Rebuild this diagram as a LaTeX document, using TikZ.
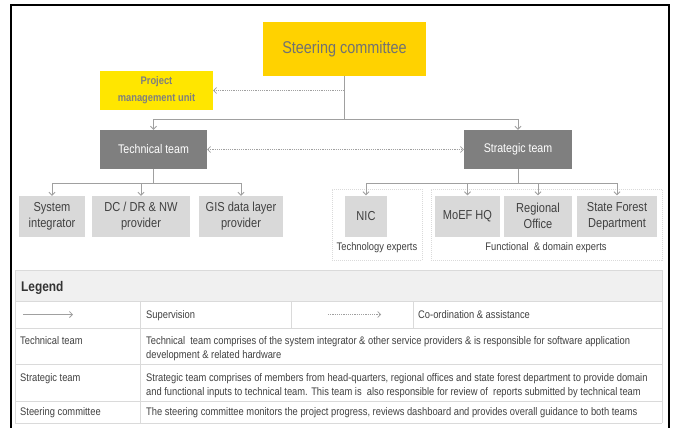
\documentclass[tikz,border=0pt]{standalone}
\usepackage{fontspec}
\setmainfont{Liberation Sans}[FakeStretch=0.85]
\usetikzlibrary{arrows.meta}
\definecolor{steer}{HTML}{FFD200}
\definecolor{pmuc}{HTML}{FFE600}
\definecolor{teamc}{HTML}{7F7F7F}
\definecolor{subc}{HTML}{D9D9D9}
\definecolor{txt}{HTML}{404040}
\definecolor{linec}{HTML}{A0A0A0}
\definecolor{grid}{HTML}{DADADA}
\definecolor{headc}{HTML}{F0F0F0}
\tikzset{
  box/.style={rectangle, inner sep=1pt, align=center, text=txt},
  steerbox/.style={box, fill=steer, font=\fontsize{17}{19}\selectfont, text=teamc!90!black},
  pmubox/.style={box, fill=pmuc, font=\bfseries\fontsize{11}{17}\selectfont, text=teamc},
  teambox/.style={box, fill=teamc, text=white, font=\fontsize{12.5}{15}\selectfont},
  subbox/.style={box, fill=subc, font=\fontsize{13}{16}\selectfont},
  grp/.style={draw=grid, dash pattern=on 1pt off 1pt, line width=0.6pt},
  grplabel/.style={font=\fontsize{11}{13}\selectfont, text=txt},
  conn/.style={draw=linec, line width=0.8pt},
  arr/.style={conn, -{Straight Barb[length=3pt,width=6pt]}},
  dotarr/.style={draw=linec, line width=0.7pt, dash pattern=on 1.2pt off 1pt, -{Straight Barb[length=3pt,width=6pt]}},
  dotarr2/.style={draw=linec, line width=0.7pt, dash pattern=on 1.2pt off 1pt, {Straight Barb[length=3pt,width=6pt]}-{Straight Barb[length=3pt,width=6pt]}},
  cell/.style={anchor=base west, inner sep=0pt, align=left, text=txt, font=\fontsize{11}{14}\selectfont},
  gridline/.style={draw=grid, line width=1pt}
}
\begin{document}
\begin{tikzpicture}[x=1pt,y=-1pt]
\useasboundingbox (0,0) rectangle (675,428);
\fill[white] (0,0) rectangle (675,428);
\draw[black, line width=1.8pt] (11,5) rectangle (669,440);

% top nodes
\node[steerbox, minimum width=163pt, minimum height=54pt] (steer) at (344.5,49) {Steering committee};
\node[pmubox, minimum width=113pt, minimum height=39pt] (pmu) at (156.5,90.5) {Project\\management unit};
\node[teambox, minimum width=107pt, minimum height=39pt] (tech) at (153.5,149.5) {Technical team};
\node[teambox, minimum width=108pt, minimum height=39pt] (strat) at (518,149.5) {Strategic team};

% groups
\node[grp, minimum width=90pt, minimum height=71pt] (g1) at (377,224.5) {};
\node[grp, minimum width=231pt, minimum height=71pt] (g2) at (546.5,224.5) {};
\node[grplabel] (g1l) at (377,248) {Technology experts};
\node[grplabel] (g2l) at (546,248) {Functional \ \& domain experts};

% sub boxes
\node[subbox, minimum width=66pt, minimum height=41pt] (si) at (52,216.5) {System\\integrator};
\node[subbox, minimum width=98pt, minimum height=41pt] (dc) at (141,216.5) {DC / DR \& NW\\provider};
\node[subbox, minimum width=84pt, minimum height=41pt] (gis) at (241,216.5) {GIS data layer\\provider};
\node[subbox, minimum width=42pt, minimum height=41pt] (nic) at (366,216) {NIC};
\node[subbox, minimum width=65pt, minimum height=41pt] (moef) at (467.5,216) {MoEF HQ};
\node[subbox, minimum width=68pt, minimum height=41pt] (reg) at (538,216) {Regional\\Office};
\node[subbox, minimum width=80pt, minimum height=41pt] (sfd) at (617,216) {State Forest\\Department};

% connectors
\coordinate (sj) at (344.5,119);
\coordinate (pj) at (344.5,90.5);
\draw[conn] (steer.south) -- (sj);
\draw[arr] (sj) -| (tech.north);
\draw[arr] (sj) -| (strat.north);
\draw[dotarr] (pj) -- (pmu.east);
\draw[dotarr2] (tech.east) -- (strat.west);

\coordinate (tj) at (153.5,183);
\draw[conn] (tech.south) -- (tj);
\draw[arr] (tj) -| (si.north);
\draw[arr] (tj) -| (dc.north);
\draw[arr] (tj) -| (gis.north);

\coordinate (stj) at (518,183);
\draw[conn] (strat.south) -- (stj);
\draw[arr] (stj) -| (nic.north);
\draw[arr] (stj) -| (moef.north);
\draw[arr] (stj) -| (reg.north);
\draw[arr] (stj) -| (sfd.north);

% legend table
\fill[headc] (15,270) rectangle (662,301);
\draw[gridline] (15,270) -- (662,270);
\draw[gridline] (15,301) -- (662,301);
\draw[gridline] (15,328) -- (662,328);
\draw[gridline] (15,364) -- (662,364);
\draw[gridline] (15,401) -- (662,401);
\draw[gridline] (15,423) -- (662,423);
\draw[gridline] (15,270) -- (15,423);
\draw[gridline] (662,270) -- (662,423);
\draw[gridline] (140,301) -- (140,423);
\draw[gridline] (291,301) -- (291,328);
\draw[gridline] (413,301) -- (413,328);

\node[anchor=base west, inner sep=0pt, font=\bfseries\fontsize{14}{16}\selectfont, text=black!80] (leg) at (21,291) {Legend};

\coordinate (la1) at (23,314.5);
\coordinate (la2) at (73,314.5);
\draw[arr] (la1) -- (la2);
\node[cell] (sup) at (146,318.5) {Supervision};
\coordinate (lb1) at (328,314.5);
\coordinate (lb2) at (381,314.5);
\draw[dotarr] (lb1) -- (lb2);
\node[cell] (coa) at (418,318.5) {Co-ordination \& assistance};

\node[cell] (r2a) at (20,344) {Technical team};
\node[cell] (r2b) at (146,358) {Technical \ team comprises of the system integrator \& other service providers \& is responsible for software application\\development \& related hardware};
\node[cell] (r3a) at (20,381) {Strategic team};
\node[cell] (r3b) at (146,395) {Strategic team comprises of members from head-quarters, regional offices and state forest department to provide domain\\and functional inputs to technical team. This team is \ also responsible for review of \ reports submitted by technical team};
\node[cell] (r4a) at (20,415) {Steering committee};
\node[cell] (r4b) at (146,415) {The steering committee monitors the project progress, reviews dashboard and provides overall guidance to both teams};
\end{tikzpicture}
\end{document}
